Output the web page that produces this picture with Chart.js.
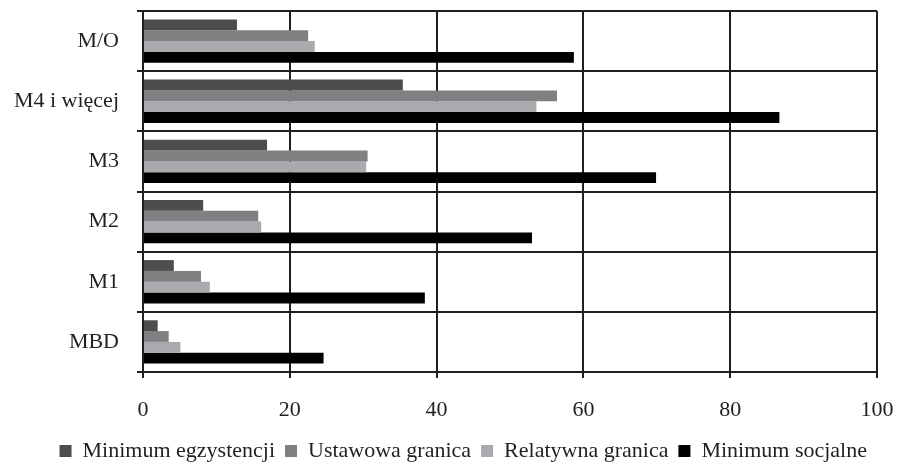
<!DOCTYPE html>
<html>
<head>
<meta charset="utf-8">
<script src="https://cdn.jsdelivr.net/npm/chart.js@4/dist/chart.umd.min.js"></script>
<style>
  html, body { margin: 0; padding: 0; background: #fff; }
  #wrap { width: 897px; height: 464px; position: relative; }
</style>
</head>
<body>
<div id="wrap"><canvas id="chart"></canvas></div>
<script>
const CATEGORIES = ['M/O', 'M4 i więcej', 'M3', 'M2', 'M1', 'MBD'];
const MIN_EGZYSTENCJI = [12.8, 35.4, 16.9, 8.2, 4.2, 2.0];
const USTAWOWA = [22.5, 56.4, 30.6, 15.7, 7.9, 3.5];
const RELATYWNA = [23.4, 53.6, 30.4, 16.1, 9.1, 5.1];
const MIN_SOCJALNE = [58.7, 86.7, 69.9, 53.0, 38.4, 24.6];

const INK = '#231f20';
const FONT = "'Liberation Serif', 'Times New Roman', serif";

Chart.defaults.font.family = FONT;
Chart.defaults.color = INK;

// scales add their own edge padding for tick labels; drop it so the plot box sits where the reference has it
const noPad = s => { s.paddingLeft = 0; s.paddingRight = 0; s.paddingTop = 0; s.paddingBottom = 0; };

new Chart(document.getElementById('chart'), {
  type: 'bar',
  data: {
    labels: CATEGORIES,
    datasets: [
      { label: 'Minimum egzystencji', data: MIN_EGZYSTENCJI, backgroundColor: '#4d4d4f' },
      { label: 'Ustawowa granica', data: USTAWOWA, backgroundColor: '#808083' },
      { label: 'Relatywna granica', data: RELATYWNA, backgroundColor: '#a8aaad' },
      { label: 'Minimum socjalne', data: MIN_SOCJALNE, backgroundColor: '#000000' },
    ],
  },
  options: {
    indexAxis: 'y',
    responsive: true, maintainAspectRatio: false,
    animation: false,
    categoryPercentage: 0.72,
    barPercentage: 1,
    layout: { padding: { top: 11, right: 20, left: 0, bottom: -8 } },
    plugins: {
      tooltip: { enabled: false },
      legend: {
        position: 'bottom',
        align: 'end',
        labels: { boxWidth: 12, boxHeight: 12, padding: 10, font: { size: 22 }, color: INK },
      },
    },
    scales: {
      x: {
        min: 0, max: 100,
        ticks: { stepSize: 20, padding: 19, font: { size: 22 }, color: INK },
        grid: { color: INK, lineWidth: 2, tickLength: 6 },
        border: { color: INK, width: 2 },
        afterFit: s => { s.height = 58; noPad(s); },
      },
      y: {
        ticks: { padding: 18, font: { size: 22 }, color: INK },
        grid: { color: INK, lineWidth: 2, tickLength: 6, offset: true },
        border: { color: INK, width: 2 },
        afterFit: s => { s.width = 143; noPad(s); },
      },
    },
  },
});
</script>
</body>
</html>
